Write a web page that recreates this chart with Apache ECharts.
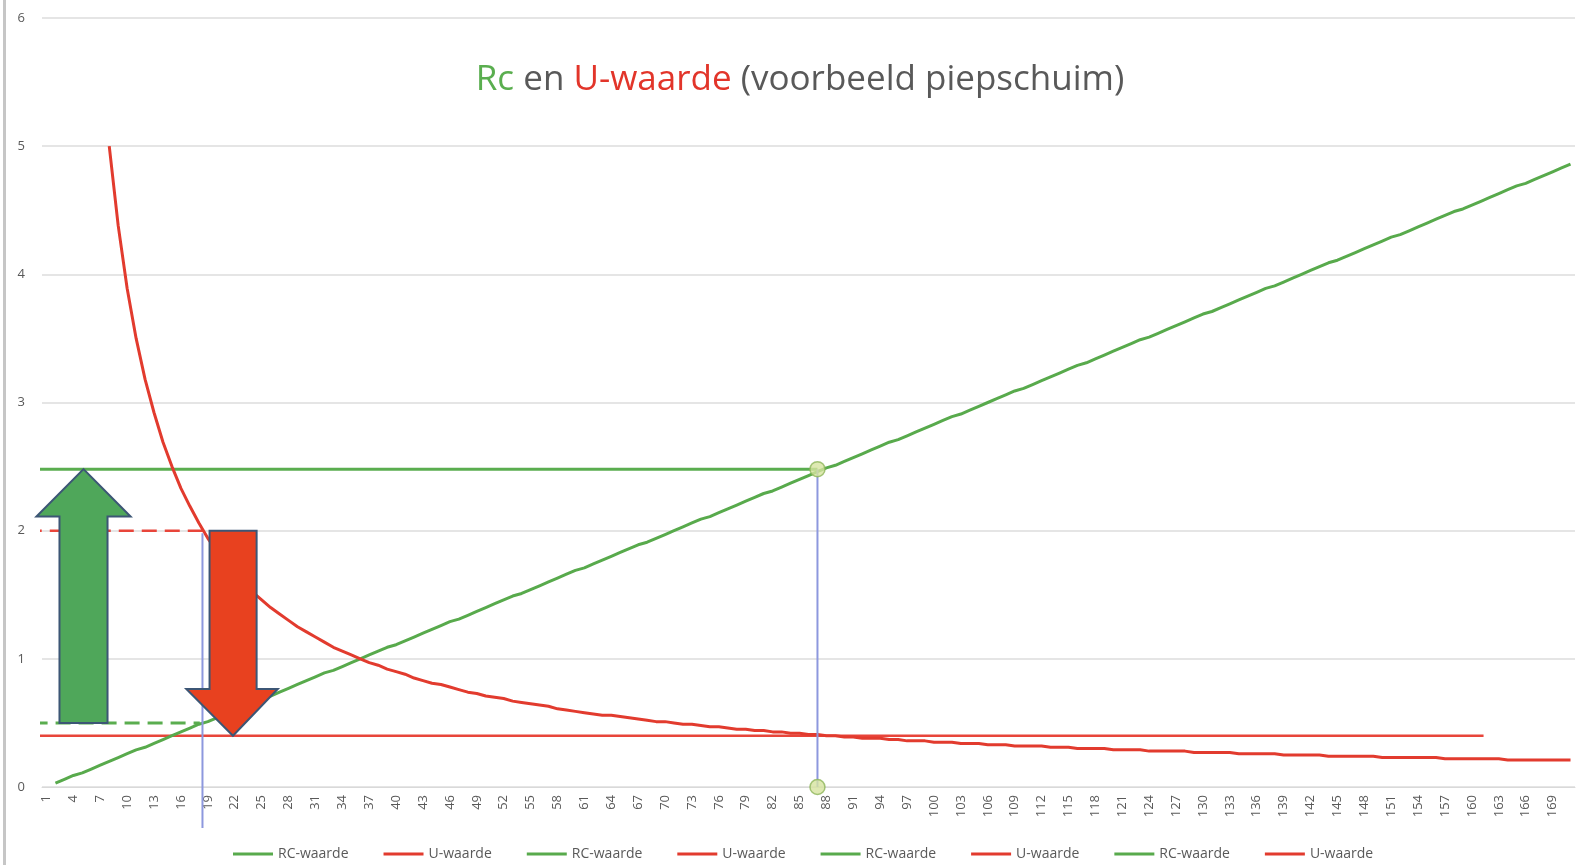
<!DOCTYPE html>
<html>
<head>
<meta charset="utf-8">
<script src="https://cdn.jsdelivr.net/npm/echarts@6/dist/echarts.min.js"></script>
<style>html,body{margin:0;padding:0;background:#fff;}#c{width:1576px;height:865px;}</style>
</head>
<body>
<div id="c"></div>
<script>
// ---- data ----
const categories = [];
for (let i = 1; i <= 171; i++) categories.push(String(i));

const yTicks = [0, 1, 2, 3, 4, 5, 6];

// Rc-waarde per category (category 1 empty)
const rcValues = [null,
0.03,0.06,0.09,0.11,0.14,0.17,0.20,0.23,0.26,0.29,0.31,0.34,0.37,0.40,0.43,0.46,0.49,0.51,0.54,0.57,0.60,0.63,0.66,0.69,0.71,0.74,0.77,0.80,0.83,0.86,0.89,0.91,0.94,0.97,1.00,
1.03,1.06,1.09,1.11,1.14,1.17,1.20,1.23,1.26,1.29,1.31,1.34,1.37,1.40,1.43,1.46,1.49,1.51,1.54,1.57,1.60,1.63,1.66,1.69,1.71,1.74,1.77,1.80,1.83,1.86,1.89,1.91,1.94,1.97,2.00,
2.03,2.06,2.09,2.11,2.14,2.17,2.20,2.23,2.26,2.29,2.31,2.34,2.37,2.40,2.43,2.46,2.49,2.51,2.54,2.57,2.60,2.63,2.66,2.69,2.71,2.74,2.77,2.80,2.83,2.86,2.89,2.91,2.94,2.97,3.00,
3.03,3.06,3.09,3.11,3.14,3.17,3.20,3.23,3.26,3.29,3.31,3.34,3.37,3.40,3.43,3.46,3.49,3.51,3.54,3.57,3.60,3.63,3.66,3.69,3.71,3.74,3.77,3.80,3.83,3.86,3.89,3.91,3.94,3.97,4.00,
4.03,4.06,4.09,4.11,4.14,4.17,4.20,4.23,4.26,4.29,4.31,4.34,4.37,4.40,4.43,4.46,4.49,4.51,4.54,4.57,4.60,4.63,4.66,4.69,4.71,4.74,4.77,4.80,4.83,4.86];

// U-waarde per category (categories 1-7 empty)
const uValues = [null,null,null,null,null,null,null,
5.00,4.38,3.89,3.50,
3.18,2.92,2.69,2.50,2.33,2.19,2.06,1.94,1.84,1.75,
1.67,1.59,1.52,1.46,1.40,1.35,1.30,1.25,1.21,1.17,
1.13,1.09,1.06,1.03,1.00,0.97,0.95,0.92,0.90,0.88,
0.85,0.83,0.81,0.80,0.78,0.76,0.74,0.73,0.71,0.70,
0.69,0.67,0.66,0.65,0.64,0.63,0.61,0.60,0.59,0.58,
0.57,0.56,0.56,0.55,0.54,0.53,0.52,0.51,0.51,0.50,
0.49,0.49,0.48,0.47,0.47,0.46,0.45,0.45,0.44,0.44,
0.43,0.43,0.42,0.42,0.41,0.41,0.40,0.40,0.39,0.39,
0.38,0.38,0.38,0.37,0.37,0.36,0.36,0.36,0.35,0.35,
0.35,0.34,0.34,0.34,0.33,0.33,0.33,0.32,0.32,0.32,
0.32,0.31,0.31,0.31,0.30,0.30,0.30,0.30,0.29,0.29,
0.29,0.29,0.28,0.28,0.28,0.28,0.28,0.27,0.27,0.27,
0.27,0.27,0.26,0.26,0.26,0.26,0.26,0.25,0.25,0.25,
0.25,0.25,0.24,0.24,0.24,0.24,0.24,0.24,0.23,0.23,
0.23,0.23,0.23,0.23,0.23,0.22,0.22,0.22,0.22,0.22,
0.22,0.22,0.21,0.21,0.21,0.21,0.21,0.21,0.21,0.21];

// annotation lines in data coordinates [category position, value]
const rcTargetLine = [[-2.0, 2.48], [87, 2.48]];
const uTargetLine = [[-0.9, 0.40], [161.3, 0.40]];
const rcStartDashed = [[-0.55, 0.50], [18.1, 0.50]];
const uStartDashed = [[-1.2, 2.00], [18.6, 2.00]];
const rcDropLine = [[87, 2.48], [87, 0]];
const uDropLine = [[18.4, 1.98], [18.4, -0.32]];
const markerPoints = [[87, 2.48], [87, 0]];

// arrows (polygon vertices in data coordinates)
const upArrow = [[2.45,0.50],[2.45,2.11],[-0.12,2.11],[5.13,2.48],[10.38,2.11],[7.81,2.11],[7.81,0.50]];
const downArrow = [[19.19,2.00],[24.44,2.00],[24.44,0.765],[26.8,0.765],[21.8,0.40],[16.6,0.765],[19.19,0.765]];

const legendNames = ['RC-waarde 1','U-waarde 1','RC-waarde 2','U-waarde 2','RC-waarde 3','U-waarde 3','RC-waarde 4','U-waarde 4'];

// ---- colours ----
const GREEN = '#58aa4c';
const RED = '#e23b2e';
const BLUE = '#8d98de';

function polySeries(verts, fill) {
  return {
    type: 'custom', xAxisIndex: 1, yAxisIndex: 0, data: verts, silent: true, z: 6,
    encode: { x: 0, y: 1 },
    renderItem: function (params, api) {
      if (params.dataIndex !== 0) return;
      const pts = verts.map(v => api.coord(v));
      return { type: 'polygon', shape: { points: pts },
        style: { fill: fill, stroke: '#3c5675', lineWidth: 2 } };
    }
  };
}

function lineSeries(name, data, color, width, type, z) {
  return {
    name: name, type: 'line', xAxisIndex: 1, yAxisIndex: 0, data: data,
    symbol: 'none', clip: false, silent: true, z: z || 3,
    lineStyle: { color: color, width: width, type: type || 'solid' },
    itemStyle: { color: color }
  };
}

const chart = echarts.init(document.getElementById('c'), null, { renderer: 'canvas' });

const option = {
  backgroundColor: '#ffffff',
  animation: false,
  grid: { left: 42, right: 1, top: 18, bottom: 78, containLabel: false },
  xAxis: [{
    type: 'category', data: categories, boundaryGap: true,
    axisLine: { show: true, lineStyle: { color: '#d9d9d9', width: 1 } },
    axisTick: { show: false },
    axisLabel: { interval: 2, rotate: 90, color: '#595959', fontSize: 13, margin: 8,
      fontFamily: 'Open Sans' },
    splitLine: { show: false }
  }, {
    type: 'value', min: 0.5, max: 171.5, show: false,
    splitLine: { show: false }
  }],
  yAxis: [{
    type: 'value', min: yTicks[0], max: yTicks[yTicks.length - 1], interval: 1,
    axisLine: { show: false }, axisTick: { show: false },
    axisLabel: { color: '#595959', fontSize: 13, margin: 17, fontFamily: 'Open Sans',
      formatter: v => String(v) },
    splitLine: { show: true, lineStyle: { color: '#dcdcdc', width: 1.5 } }
  }],
  legend: {
    bottom: -1, left: 228, itemWidth: 40, itemHeight: 3, itemGap: 35,
    icon: 'rect',
    textStyle: { color: '#595959', fontSize: 14, fontFamily: 'Open Sans' },
    formatter: n => n.replace(/ \d$/, ''),
    data: legendNames.map(n => ({ name: n, icon: 'rect',
      itemStyle: { color: n.startsWith('RC') ? GREEN : RED } }))
  },
  graphic: [
    { type: 'rect', shape: { x: 3, y: 0, width: 3, height: 865 }, style: { fill: '#c6c6c6' }, z: 100 },
    { type: 'text', x: 800, y: 80, z: 100,
      style: {
        text: '{g|Rc}{d| en }{r|U-waarde}{d| (voorbeeld piepschuim)}',
        align: 'center', verticalAlign: 'middle',
        rich: {
          g: { fill: '#5aae4f', fontSize: 35, fontFamily: 'Open Sans' },
          r: { fill: '#e2352a', fontSize: 35, fontFamily: 'Open Sans' },
          d: { fill: '#595959', fontSize: 35, fontFamily: 'Open Sans' }
        }
      }
    }
  ],
  series: [
    { name: 'RC-waarde 1', type: 'line', xAxisIndex: 0, data: rcValues, symbol: 'none',
      connectNulls: false, z: 4, lineStyle: { color: GREEN, width: 3 }, itemStyle: { color: GREEN } },
    { name: 'U-waarde 1', type: 'line', xAxisIndex: 0, data: uValues, symbol: 'none',
      z: 4, lineStyle: { color: RED, width: 3 }, itemStyle: { color: RED } },
    lineSeries('RC-waarde 2', rcTargetLine, '#5aad4f', 3),
    lineSeries('U-waarde 2', uTargetLine, '#e8453a', 2.5),
    lineSeries('RC-waarde 3', rcStartDashed, '#5aad4f', 3, [15, 8]),
    lineSeries('U-waarde 3', uStartDashed, '#e8453a', 2.5, [15, 8]),
    lineSeries('RC-waarde 4', rcDropLine, BLUE, 2, 'solid', 7),
    lineSeries('U-waarde 4', uDropLine, BLUE, 2, 'solid', 5),
    polySeries(upArrow, '#4fa75a'),
    polySeries(downArrow, '#e8411f'),
    { type: 'scatter', xAxisIndex: 1, yAxisIndex: 0, data: markerPoints, symbol: 'circle',
      symbolSize: 15, clip: false, silent: true, z: 10,
      itemStyle: { color: '#d6e49f', borderColor: '#8db55a', borderWidth: 1.5 } }
  ]
};
chart.setOption(option);
</script>
</body>
</html>
